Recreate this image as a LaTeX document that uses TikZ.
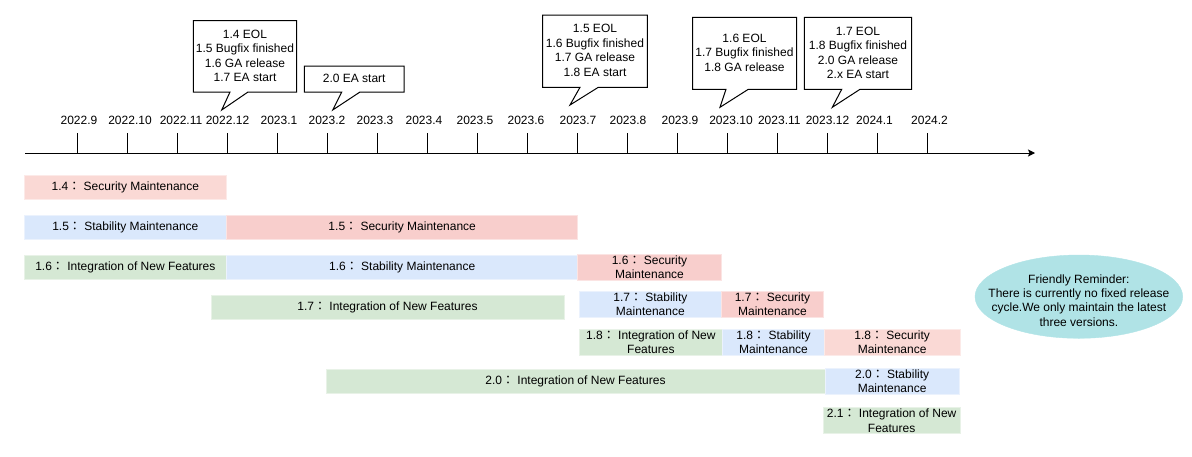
\documentclass[tikz,border=0pt]{standalone}
\usepackage{fontspec}
\setmainfont{Liberation Sans}
\newfontfamily\cjkfont{Noto Sans CJK JP}
\usetikzlibrary{arrows.meta,shapes.geometric}

\definecolor{secfill}{HTML}{F8CECC}
\definecolor{secfilllight}{HTML}{FAD9D5}
\definecolor{stabfill}{HTML}{DAE8FC}
\definecolor{intfill}{HTML}{D5E8D4}
\definecolor{notefill}{HTML}{B0E3E6}

% invisible strut so every text line has the same height and depth
\newcommand\lnstrut{\rule[-1.5pt]{0pt}{11.5pt}}
% full-width colon followed by a space
\newcommand\fcol{{\cjkfont ：}\ }

\tikzset{
  txt/.style={font=\fontsize{12}{14.5}\selectfont, align=center, inner sep=0pt, text=black},
  bar/.style={txt, draw=#1!55!white, fill=#1, line width=0.6pt},
  callout/.style={draw=black, line width=1pt, fill=white, line join=miter},
  tickline/.style={line width=1pt},
}

\begin{document}
\begin{tikzpicture}[x=1pt, y=-1pt]
\useasboundingbox (0,0) rectangle (1192,456);

% ---- time axis ----
\coordinate (axstart) at (25,153);
\coordinate (axend) at (1035,153);
\draw[line width=1pt, -{Stealth[length=7pt,width=7pt,inset=1.5pt]}] (axstart) -- (axend);
\foreach \i in {0,...,17}
  \draw[tickline] ({77+50*\i},133) -- ({77+50*\i},153);

\foreach \x/\t [count=\n] in {79/2022.9, 130/2022.10, 181/2022.11, 227.5/2022.12,
    279/2023.1, 327/2023.2, 375/2023.3, 424/2023.4, 475/2023.5, 526/2023.6,
    578/2023.7, 628/2023.8, 680/2023.9, 731/2023.10, 779.3/2023.11,
    827.5/2023.12, 874.5/2024.1, 929.5/2024.2}
  \node[txt] (month\n) at (\x,119.75) {\lnstrut\t};

% ---- milestone callouts ----
\draw[callout] (193.3,20.7) -- (296.7,20.7) -- (296.7,92) -- (248,92)
  -- (221.7,110) -- (230,92) -- (193.3,92) -- cycle;
\node[txt] (ms1) at (245,55.75) {\lnstrut 1.4 EOL\\\lnstrut 1.5 Bugfix finished\\\lnstrut 1.6 GA release\\\lnstrut 1.7 EA start};

\draw[callout] (304.3,66) -- (404,66) -- (404,92) -- (360,92)
  -- (332.7,110) -- (341.7,92) -- (304.3,92) -- cycle;
\node[txt] (ms2) at (354.2,78.5) {\lnstrut 2.0 EA start};

\draw[callout] (542.7,15) -- (647.3,15) -- (647.3,87.3) -- (598.3,87.3)
  -- (570,105) -- (580,87.3) -- (542.7,87.3) -- cycle;
\node[txt] (ms3) at (595,50.4) {\lnstrut 1.5 EOL\\\lnstrut 1.6 Bugfix finished\\\lnstrut 1.7 GA release\\\lnstrut 1.8 EA start};

\draw[callout] (692.7,17.3) -- (796.7,17.3) -- (796.7,89.3) -- (748.3,89.3)
  -- (720,107.3) -- (726,89.3) -- (692.7,89.3) -- cycle;
\node[txt] (ms4) at (744.5,52.6) {\lnstrut 1.6 EOL\\\lnstrut 1.7 Bugfix finished\\\lnstrut 1.8 GA release};

\draw[callout] (804.3,17.3) -- (911.7,17.3) -- (911.7,89.3) -- (860,89.3)
  -- (832.3,107.3) -- (841.7,89.3) -- (804.3,89.3) -- cycle;
\node[txt] (ms5) at (858,52.7) {\lnstrut 1.7 EOL\\\lnstrut 1.8 Bugfix finished\\\lnstrut 2.0 GA release\\\lnstrut 2.x EA start};

% ---- maintenance phases ----
\node[bar=secfilllight, minimum width=202.7pt, minimum height=24.3pt] (v14sec) at (125.35,187.15) {\lnstrut 1.4\fcol Security Maintenance};

\node[bar=stabfill, minimum width=202.7pt, minimum height=24pt] (v15stab) at (125.35,227) {\lnstrut 1.5\fcol Stability Maintenance};
\node[bar=secfill, minimum width=351pt, minimum height=24pt] (v15sec) at (402.2,227) {\lnstrut 1.5\fcol Security Maintenance};

\node[bar=intfill, minimum width=202.7pt, minimum height=24.3pt] (v16int) at (125.35,267.15) {\lnstrut 1.6\fcol Integration of New Features};
\node[bar=stabfill, minimum width=351pt, minimum height=24.3pt] (v16stab) at (402.2,267.15) {\lnstrut 1.6\fcol Stability Maintenance};
\node[bar=secfill, minimum width=144.4pt, minimum height=24.3pt] (v16sec) at (649.5,267.15) {\lnstrut 1.6\fcol Security\\\lnstrut Maintenance};

\node[bar=intfill, minimum width=353pt, minimum height=24.3pt] (v17int) at (387.5,307.15) {\lnstrut 1.7\fcol Integration of New Features};
\node[bar=stabfill, minimum width=142.7pt, minimum height=24.5pt] (v17stab) at (650.35,304.25) {\lnstrut 1.7\fcol Stability\\\lnstrut Maintenance};
\node[bar=secfill, minimum width=101.6pt, minimum height=24.5pt] (v17sec) at (772.5,304.25) {\lnstrut 1.7\fcol Security\\\lnstrut Maintenance};

\node[bar=intfill, minimum width=143.7pt, minimum height=24.3pt] (v18int) at (650.85,342.15) {\lnstrut 1.8\fcol Integration of New\\\lnstrut Features};
\node[bar=stabfill, minimum width=101.6pt, minimum height=24.3pt] (v18stab) at (773.5,342.15) {\lnstrut 1.8\fcol Stability\\\lnstrut Maintenance};
\node[bar=secfilllight, minimum width=135.7pt, minimum height=24.3pt] (v18sec) at (892.15,342.15) {\lnstrut 1.8\fcol Security\\\lnstrut Maintenance};

\node[bar=intfill, minimum width=499pt, minimum height=24.3pt] (v20int) at (575.5,381.15) {\lnstrut 2.0\fcol Integration of New Features};
\node[bar=stabfill, minimum width=134.3pt, minimum height=24.3pt] (v20stab) at (892.15,381.15) {\lnstrut 2.0\fcol Stability\\\lnstrut Maintenance};

\node[bar=intfill, minimum width=136.7pt, minimum height=24.4pt] (v21int) at (891.65,420.5) {\lnstrut 2.1\fcol Integration of New\\\lnstrut Features};

% ---- reminder note ----
\node[ellipse, fill=notefill, draw=notefill, minimum width=207.7pt, minimum height=83.3pt, inner sep=0pt] (note) at (1078.85,296.65) {};
\node[txt, font=\fontsize{12}{14.2}\selectfont] (notetext) at (1078.85,300.5) {\lnstrut Friendly Reminder:\\\lnstrut There is currently no fixed release\\\lnstrut cycle.We only maintain the latest\\\lnstrut three versions.};
\end{tikzpicture}
\end{document}
